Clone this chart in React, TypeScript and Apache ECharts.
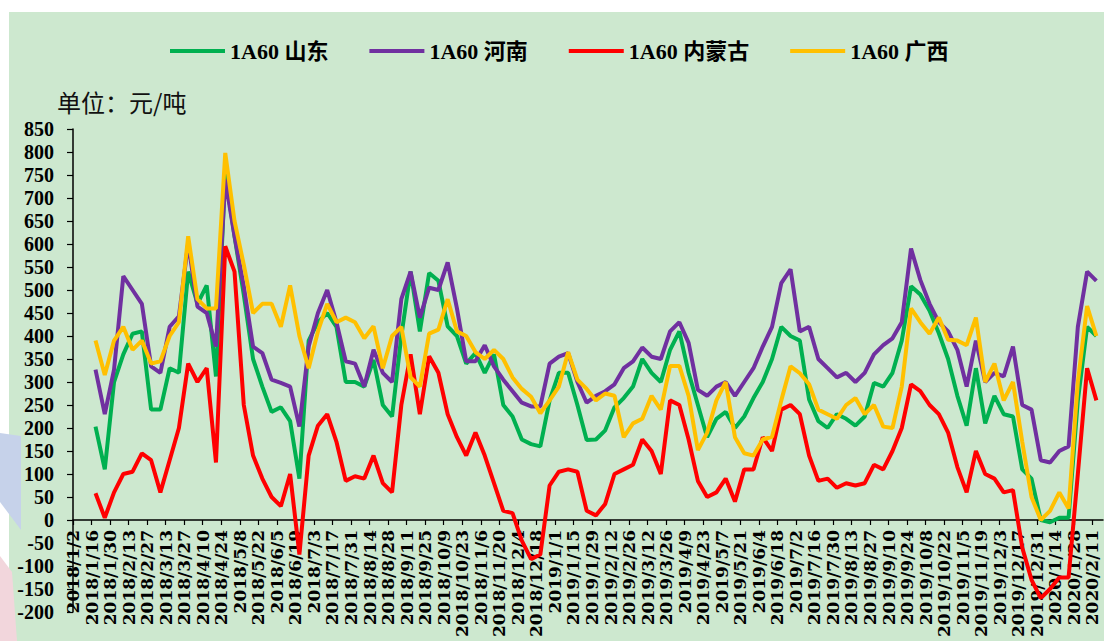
import React, { useEffect, useRef } from "react";
import * as echarts from "echarts";

// Weekly sample dates
const dates = [
  "2018/1/19", "2018/1/26", "2018/2/2", "2018/2/9", "2018/2/16", "2018/2/23", "2018/3/2", "2018/3/9", "2018/3/16", "2018/3/23",
  "2018/3/30", "2018/4/6", "2018/4/13", "2018/4/20", "2018/4/27", "2018/5/4", "2018/5/11", "2018/5/18", "2018/5/25", "2018/6/1",
  "2018/6/8", "2018/6/15", "2018/6/22", "2018/6/29", "2018/7/6", "2018/7/13", "2018/7/20", "2018/7/27", "2018/8/3", "2018/8/10",
  "2018/8/17", "2018/8/24", "2018/8/31", "2018/9/7", "2018/9/14", "2018/9/21", "2018/9/28", "2018/10/5", "2018/10/12", "2018/10/19",
  "2018/10/26", "2018/11/2", "2018/11/9", "2018/11/16", "2018/11/23", "2018/11/30", "2018/12/7", "2018/12/14", "2018/12/21", "2018/12/28",
  "2019/1/4", "2019/1/11", "2019/1/18", "2019/1/25", "2019/2/1", "2019/2/8", "2019/2/15", "2019/2/22", "2019/3/1", "2019/3/8",
  "2019/3/15", "2019/3/22", "2019/3/29", "2019/4/5", "2019/4/12", "2019/4/19", "2019/4/26", "2019/5/3", "2019/5/10", "2019/5/17",
  "2019/5/24", "2019/5/31", "2019/6/7", "2019/6/14", "2019/6/21", "2019/6/28", "2019/7/5", "2019/7/12", "2019/7/19", "2019/7/26",
  "2019/8/2", "2019/8/9", "2019/8/16", "2019/8/23", "2019/8/30", "2019/9/6", "2019/9/13", "2019/9/20", "2019/9/27", "2019/10/4",
  "2019/10/11", "2019/10/18", "2019/10/25", "2019/11/1", "2019/11/8", "2019/11/15", "2019/11/22", "2019/11/29", "2019/12/6", "2019/12/13",
  "2019/12/20", "2019/12/27", "2020/1/3", "2020/1/10", "2020/1/17", "2020/1/24", "2020/1/31", "2020/2/7", "2020/2/14",
];

const shandong = [
  203, 110, 300, 360, 405, 410, 240, 240, 330, 320, 540, 470, 510, 312, 755, 617, 490, 350, 290, 235, 245, 215, 90, 390, 430,
  450, 420, 300, 300, 290, 348, 250, 225, 400, 540, 410, 537, 520, 421, 400, 340, 363, 320, 360, 250, 225, 175, 165, 160, 260, 320, 320,
  250, 174, 175, 195, 245, 265, 290, 350, 320, 300, 370, 410, 320, 250, 180, 220, 235, 200, 225, 265, 300, 350, 420, 400, 390, 262, 215,
  200, 230, 220, 205, 225, 298, 290, 320, 390, 508, 490, 455, 406, 350, 270, 205,
  330, 210, 270, 230, 225, 110, 90, 0, -5, 5, 5, 260, 420, 400,
];

const henan = [
  327, 230, 327, 530, 500, 470, 334, 320, 420, 443, 602, 464, 450, 377, 740, 617, 508, 377, 363, 305, 298, 290, 203, 377, 450,
  500, 430, 345, 340, 290, 370, 320, 300, 480, 540, 440, 505, 500, 560, 460, 345, 345, 380, 334, 305, 280, 255, 247, 247, 340, 355, 363,
  300, 255, 270, 280, 295, 330, 345, 375, 355, 350, 410, 430, 385, 283, 270, 290, 300, 270, 300, 330, 377, 420, 515, 545, 410, 420, 350,
  330, 310, 320, 300, 320, 360, 380, 395, 430, 590, 522, 470, 430, 410, 370, 290,
  390, 300, 320, 312, 377, 250, 240, 130, 125, 150, 160, 420, 540, 520,
];

const neimenggu = [
  58, 5, 60, 100, 105, 145, 130, 60, 130, 200, 340, 300, 330, 125, 595, 540, 250, 140, 90, 50, 30, 100, -75, 140, 205,
  230, 170, 85, 95, 90, 140, 80, 60, 250, 360, 230, 356, 320, 230, 180, 140, 190, 140, 80, 20, 15, -45, -85, -75, 75, 105, 110,
  105, 20, 10, 35, 100, 110, 120, 175, 150, 100, 260, 250, 175, 85, 50, 60, 90, 40, 110, 110, 180, 150, 240, 250, 230, 140, 85,
  90, 70, 80, 75, 80, 120, 110, 150, 200, 295, 280, 250, 230, 190, 115, 60,
  150, 100, 90, 60, 65, -60, -130, -170, -150, -125, -125, 100, 330, 260,
];

const guangxi = [
  390, 315, 390, 420, 370, 390, 340, 345, 400, 430, 617, 480, 460, 460, 798, 650, 555, 450, 470, 470, 420, 510, 400, 330, 410,
  470, 430, 440, 430, 395, 421, 330, 400, 420, 310, 290, 405, 414, 480, 410, 400, 365, 350, 370, 350, 310, 285, 268, 232, 260, 290, 365,
  305, 285, 260, 275, 270, 180, 210, 220, 270, 240, 335, 335, 270, 152, 190, 260, 300, 180, 145, 140, 175, 181, 260, 334, 319, 295, 240,
  230, 220, 250, 265, 230, 250, 203, 200, 290, 460, 430, 405, 440, 392, 390, 380,
  440, 300, 340, 260, 300, 170, 50, 0, 20, 60, 25, 300, 465, 400,
];

const seriesNames = ["1A60 山东", "1A60 河南", "1A60 内蒙古", "1A60 广西"];
const seriesColors = ["#00B050", "#7030A0", "#FF0000", "#FFC000"];
const unitLabel = "单位：元/吨";

// Axis: day offsets from the first tick label date
const axisStartDate = "2018/1/2";
const axisTickDays = 14;
const axisMaxDays = 778;
const yMin = -200;
const yMax = 850;
const yStep = 50;

const DAY = 86400000;
function parseDate(s: string): number {
  const [y, m, d] = s.split("/").map(Number);
  return Date.UTC(y, m - 1, d);
}
const BASE = parseDate(axisStartDate);
function toDay(s: string): number {
  return Math.round((parseDate(s) - BASE) / DAY);
}
function fmtDay(v: number): string {
  const dt = new Date(BASE + v * DAY);
  return `${dt.getUTCFullYear()}/${dt.getUTCMonth() + 1}/${dt.getUTCDate()}`;
}

const GRID_TOP = 129;
const GRID_HEIGHT = 483;

export default function App() {
  const ref = useRef<HTMLDivElement>(null);

  useEffect(() => {
    if (!ref.current) return;
    const chart = echarts.init(ref.current, undefined, { renderer: "svg" });
    const allValues = [shandong, henan, neimenggu, guangxi];
    const dayIdx = dates.map(toDay);
    // lift the date axis from the bottom (yMin) up to the value 0
    const zeroOffset = -((0 - yMin) / (yMax - yMin)) * GRID_HEIGHT;

    chart.setOption({
      animation: false,
      backgroundColor: "transparent",
      legend: {
        data: seriesNames,
        left: 165,
        top: 35,
        icon: "rect",
        itemWidth: 55,
        itemHeight: 4,
        itemGap: 41,
        textStyle: {
          fontFamily: "'Liberation Serif', 'Noto Sans CJK SC'",
          fontWeight: "bold",
          fontSize: 22,
          color: "#000",
        },
      },
      graphic: [
        {
          type: "polygon",
          silent: true,
          z: -1,
          shape: { points: [[0, 433], [21, 436], [21, 530], [0, 502]] },
          style: { fill: "#c6d2ea" },
        },
        {
          type: "polygon",
          silent: true,
          z: -1,
          shape: { points: [[0, 556], [12, 572], [17, 641], [0, 641]] },
          style: { fill: "#f2d6dc" },
        },
        {
          type: "text",
          left: 57,
          top: 89,
          style: {
            text: unitLabel,
            fontFamily: "'Noto Sans CJK SC'",
            fontSize: 24,
            fill: "#111",
          },
        },
      ],
      grid: {
        left: 73,
        top: GRID_TOP,
        right: 1,
        height: GRID_HEIGHT,
        containLabel: false,
        outerBoundsMode: "none",
      },
      xAxis: {
        type: "value",
        position: "bottom",
        offset: zeroOffset,
        min: 0,
        max: axisMaxDays,
        interval: axisTickDays,
        axisLine: { show: true, onZero: false, lineStyle: { color: "#000", width: 1.5 } },
        axisTick: { show: true, length: 5, lineStyle: { color: "#000", width: 1.2 } },
        splitLine: { show: false },
        axisLabel: {
          rotate: 90,
          margin: 10,
          showMaxLabel: false,
          hideOverlap: false,
          fontFamily: "'DejaVu Serif'",
          fontWeight: "bold",
          fontSize: 17,
          color: "#000",
          formatter: (v: number) => (v % axisTickDays === 0 ? fmtDay(v) : ""),
        },
      },
      yAxis: {
        type: "value",
        min: yMin,
        max: yMax,
        interval: yStep,
        axisLine: { show: true, onZero: false, lineStyle: { color: "#000", width: 1.5 } },
        axisTick: { show: true, length: 6, lineStyle: { color: "#000", width: 1.2 } },
        splitLine: { show: false },
        axisLabel: {
          margin: 19,
          fontFamily: "'Liberation Serif'",
          fontWeight: "bold",
          fontSize: 20,
          color: "#000",
        },
      },
      series: seriesNames.map((name, k) => ({
        name,
        type: "line",
        showSymbol: false,
        symbol: "none",
        data: dayIdx.map((d, i) => [d, allValues[k][i]]),
        lineStyle: { color: seriesColors[k], width: 4 },
        itemStyle: { color: seriesColors[k] },
        z: 2 + k,
      })),
    });

    return () => chart.dispose();
  }, []);

  return (
    <div style={{ position: "fixed", left: 0, top: 0, width: 1104, height: 641, background: "#fff" }}>
      <div
        style={{
          position: "absolute",
          left: 9,
          top: 12,
          right: 0,
          bottom: 0,
          background: "#cde8cf",
        }}
      />
      <div ref={ref} style={{ position: "absolute", left: 0, top: 0, width: 1104, height: 641 }} />
    </div>
  );
}
